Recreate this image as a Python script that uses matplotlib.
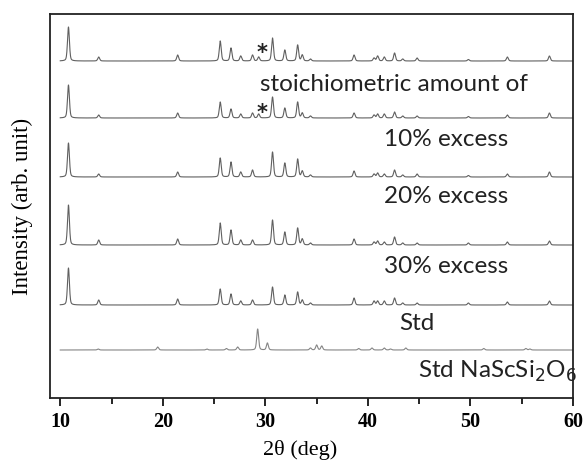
import numpy as np
import matplotlib
matplotlib.use("Agg")
import matplotlib.pyplot as plt

# ---------------- data ----------------
two_theta_range = [10.0, 60.0]

# Peak positions (deg) common to the NaScSi4O10-type patterns
peak_pos = [10.8, 13.75, 21.45, 25.6, 26.65, 27.6, 28.75, 29.35, 30.7, 31.9,
            33.15, 33.6, 34.4, 38.65, 40.6, 40.95, 41.6, 42.6, 43.4, 44.8,
            49.8, 53.6, 57.7]

# Peak heights (arb. unit) for each pattern, top to bottom
stoich_int = [34, 4, 6, 20, 13, 5, 6, 4, 23, 11, 16, 6, 2, 6, 3, 5, 4, 8, 2, 3, 1.5, 4, 5]
exc10_int  = [33, 3, 5, 16, 9, 4, 5, 4, 21, 10, 16, 5, 2, 5, 3, 4, 4, 6, 2, 2, 1.5, 3, 5]
exc20_int  = [34, 3, 5, 19, 15, 5, 7, 0, 25, 14, 18, 6, 2, 6, 3, 4, 3, 7, 2, 3, 1.5, 3, 5]
exc30_int  = [40, 5, 6, 22, 15, 5, 5, 0, 25, 13, 17, 6, 2, 6, 3, 4, 3, 8, 2, 2, 2, 3, 4]
std_int    = [37, 5, 6, 16, 11, 4, 5, 0, 18, 10, 13, 5, 2, 7, 4, 4, 4, 7, 2, 2, 2, 3, 4]

# Std NaScSi2O6 reference pattern
nasc_pos = [13.7, 19.5, 24.3, 26.2, 27.3, 29.25, 30.2, 34.4, 35.0, 35.5, 39.1,
            40.4, 41.6, 42.2, 43.7, 51.3, 55.4, 55.8]
nasc_int = [1, 3, 1, 1.5, 3, 21, 7, 2, 5, 4, 1.5, 2, 2, 1, 2, 1.5, 1.5, 1]

labels = ["stoichiometric amount of", "10% excess", "20% excess", "30% excess",
          "Std", "Std NaScSi$_2$O$_6$"]

# ---------------- layout / style ----------------
offsets = [337, 280, 221, 153, 93, 48]
label_xy = [(42.5, 307), (47.6, 252), (47.6, 195), (47.6, 125), (44.8, 68), (52.6, 20)]
colors = ["#606060", "#606060", "#606060", "#606060", "#606060", "#858585"]


def pattern(x, pos, inten, fwhm=0.22, eta=0.35):
    y = np.zeros_like(x)
    s = fwhm / 2.3548
    g = fwhm / 2
    for p, h in zip(pos, inten):
        gauss = np.exp(-0.5 * ((x - p) / s) ** 2)
        lor = 1.0 / (1.0 + ((x - p) / g) ** 2)
        y += h * ((1 - eta) * gauss + eta * lor)
    return y


x = np.linspace(two_theta_range[0], two_theta_range[1], 5000)
series = [stoich_int, exc10_int, exc20_int, exc30_int, std_int]

fig = plt.figure(figsize=(5.83, 4.63), dpi=100)
ax = fig.add_axes([50 / 583, 65 / 463, 523 / 583, 384 / 463])

for i, inten in enumerate(series):
    ax.plot(x, offsets[i] + pattern(x, peak_pos, inten), color=colors[i], lw=0.8)
ax.plot(x, offsets[5] + pattern(x, nasc_pos, nasc_int), color=colors[5], lw=0.8)

txtfont = dict(family=["Lato", "DejaVu Sans"], fontsize=17.5, color="#222222")
for (tx, ty), lab in zip(label_xy, labels):
    ax.text(tx, ty, lab, ha="center", va="baseline", **txtfont)

# asterisks marking impurity peak
ax.text(29.7, offsets[0] + 8, "*", ha="center", va="center", fontsize=15,
        fontweight="bold", color="#222222", family="DejaVu Sans")
ax.text(29.7, offsets[1] + 5, "*", ha="center", va="center", fontsize=15,
        fontweight="bold", color="#222222", family="DejaVu Sans")

ax.set_xlim(9, 60)
ax.set_ylim(0, 384)
ax.set_yticks([])
ax.set_xticks([10, 20, 30, 40, 50, 60])
ax.set_xticks([15, 25, 35, 45, 55], minor=True)
ax.tick_params(axis="x", which="major", direction="out", length=6, width=1.2,
               pad=4)
ax.tick_params(axis="x", which="minor", direction="out", length=4, width=1.2)
for lab in ax.get_xticklabels():
    lab.set_fontfamily("Liberation Serif")
    lab.set_fontweight("bold")
    lab.set_fontsize(14.5)
for sp in ax.spines.values():
    sp.set_linewidth(1.3)
    sp.set_color("#222222")

ax.set_xlabel("2θ (deg)", family="Liberation Serif", fontsize=16)
ax.xaxis.set_label_coords((300 - 50) / 523, -(440 - 398) / 384)
ax.set_ylabel("Intensity (arb. unit)", family="Liberation Serif", fontsize=16.5)
ax.yaxis.set_label_coords(-(50 - 33) / 523, 0.5)

fig.savefig("out.png", dpi=100)
